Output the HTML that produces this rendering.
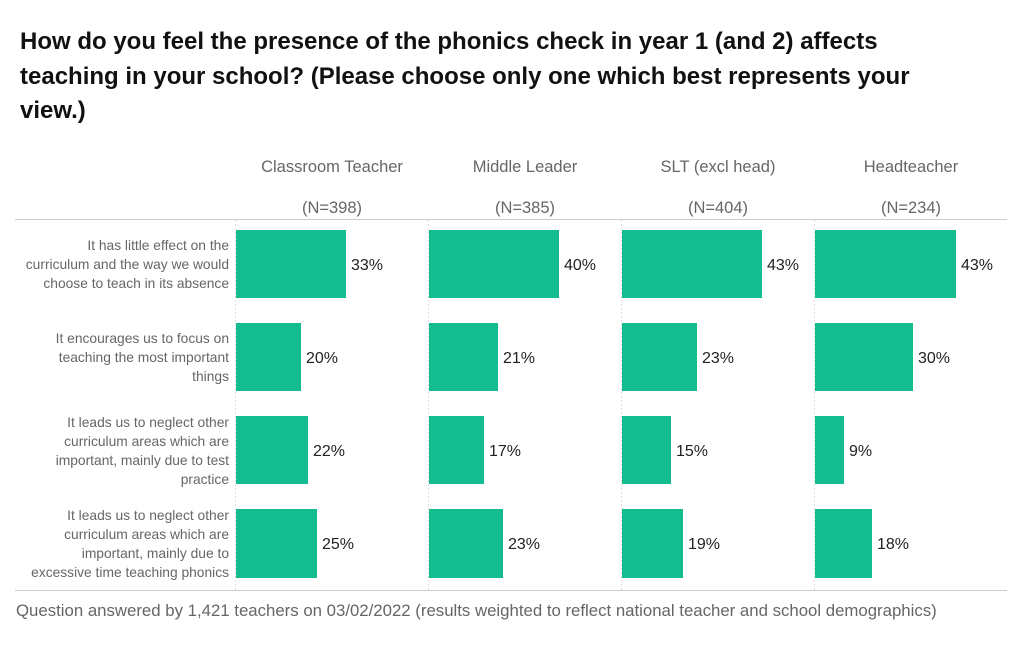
<!DOCTYPE html>
<html><head><meta charset="utf-8"><style>
body{margin:0;background:#fff;}
</style></head><body>
<svg width="1024" height="640" xmlns="http://www.w3.org/2000/svg" font-family="Liberation Sans, sans-serif">
<text font-weight="bold" font-size="24" fill="#111">
<tspan x="20" y="49">How do you feel the presence of the phonics check in year 1 (and 2) affects</tspan>
<tspan x="20" y="84">teaching in your school? (Please choose only one which best represents your</tspan>
<tspan x="20" y="118">view.)</tspan>
</text>
<g font-size="16.5" fill="#666" text-anchor="middle">
<text x="332" y="172">Classroom Teacher</text><text x="332" y="213">(N=398)</text>
<text x="525" y="172">Middle Leader</text><text x="525" y="213">(N=385)</text>
<text x="718" y="172">SLT (excl head)</text><text x="718" y="213">(N=404)</text>
<text x="911" y="172">Headteacher</text><text x="911" y="213">(N=234)</text>
</g>
<line x1="15" y1="219.5" x2="1007" y2="219.5" stroke="#ccc"/>
<line x1="15" y1="590.5" x2="1007" y2="590.5" stroke="#ccc"/>
<g stroke="#ddd" stroke-dasharray="2,2">
<line x1="235.5" y1="220" x2="235.5" y2="590"/>
<line x1="428.5" y1="220" x2="428.5" y2="590"/>
<line x1="621.5" y1="220" x2="621.5" y2="590"/>
<line x1="814.5" y1="220" x2="814.5" y2="590"/>
</g>
<g font-size="13.8" fill="#666" text-anchor="end">
<text x="229" y="250">It has little effect on the</text>
<text x="229" y="269">curriculum and the way we would</text>
<text x="229" y="288">choose to teach in its absence</text>
<text x="229" y="343">It encourages us to focus on</text>
<text x="229" y="362">teaching the most important</text>
<text x="229" y="381">things</text>
<text x="229" y="427">It leads us to neglect other</text>
<text x="229" y="446">curriculum areas which are</text>
<text x="229" y="465">important, mainly due to test</text>
<text x="229" y="484">practice</text>
<text x="229" y="520">It leads us to neglect other</text>
<text x="229" y="539">curriculum areas which are</text>
<text x="229" y="558">important, mainly due to</text>
<text x="229" y="577">excessive time teaching phonics</text>
</g>
<g fill="#13bd90">
<rect x="236" y="230" width="110" height="68"/><rect x="429" y="230" width="130" height="68"/><rect x="622" y="230" width="140" height="68"/><rect x="815" y="230" width="141" height="68"/>
<rect x="236" y="323" width="65" height="68"/><rect x="429" y="323" width="69" height="68"/><rect x="622" y="323" width="75" height="68"/><rect x="815" y="323" width="98" height="68"/>
<rect x="236" y="416" width="72" height="68"/><rect x="429" y="416" width="55" height="68"/><rect x="622" y="416" width="49" height="68"/><rect x="815" y="416" width="29" height="68"/>
<rect x="236" y="509" width="81" height="69"/><rect x="429" y="509" width="74" height="69"/><rect x="622" y="509" width="61" height="69"/><rect x="815" y="509" width="57" height="69"/>
</g>
<g font-size="16" fill="#222">
<text x="351" y="270">33%</text><text x="564" y="270">40%</text><text x="767" y="270">43%</text><text x="961" y="270">43%</text>
<text x="306" y="363">20%</text><text x="503" y="363">21%</text><text x="702" y="363">23%</text><text x="918" y="363">30%</text>
<text x="313" y="456">22%</text><text x="489" y="456">17%</text><text x="676" y="456">15%</text><text x="849" y="456">9%</text>
<text x="322" y="549">25%</text><text x="508" y="549">23%</text><text x="688" y="549">19%</text><text x="877" y="549">18%</text>
</g>
<text x="16" y="616" font-size="16.8" fill="#666">Question answered by 1,421 teachers on 03/02/2022 (results weighted to reflect national teacher and school demographics)</text>
</svg>
</body></html>
